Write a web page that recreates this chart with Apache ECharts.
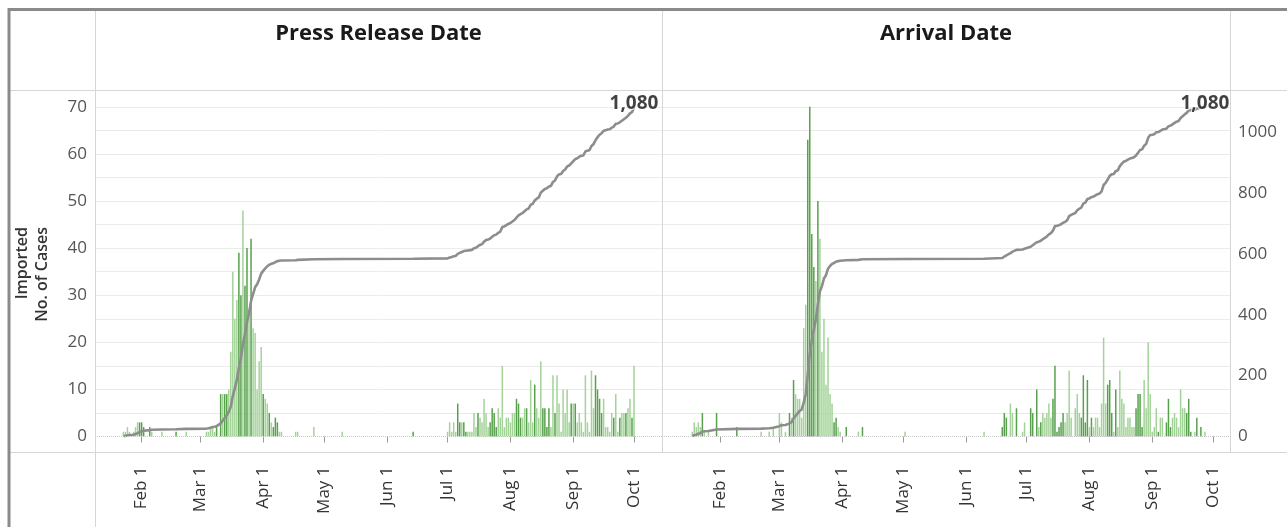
<!DOCTYPE html>
<html><head><meta charset="utf-8">
<script src="https://cdn.jsdelivr.net/npm/echarts@6/dist/echarts.min.js"></script>
<style>html,body{margin:0;padding:0;background:#fff;}#c{width:1287px;height:527px;}</style>
</head><body><div id="c"></div>
<script>
// ---------------- DATA ----------------
const YEAR = 2020;
const MONTH_NAMES = ['Jan','Feb','Mar','Apr','May','Jun','Jul','Aug','Sep','Oct','Nov','Dec'];
const PANEL_TITLES = ['Press Release Date', 'Arrival Date'];
const Y_TITLE = ['Imported', 'No. of Cases'];

// Daily imported cases by press release date (index = day of month - 1)
const PRESS_JAN = [0,0,0,0,0,0,0,0,0,0, 0,0,0,0,0,0,0,0,0,0, 0,0,1,1,2,1,0,1,2,3, 3];
const PRESS_FEB = [3,2,0,0,2,1,0,0,0,0, 1,0,0,0,0,0,0,1,0,0, 0,0,1,0,0,0,0,0,0];
const PRESS_MAR = [0,0,0,1,1,2,2,1,2,0, 9,9,9,9,10,18,35,25,29,39, 30,48,32,40,27,42,23,22,10,16, 19];
const PRESS_APR = [9,8,7,5,3,2,4,3,1,1, 0,0,0,0,0,0,1,1,0,0, 0,0,0,0,0,2,0,0,0,0];
const PRESS_MAY = [0,0,0,0,0,0,0,0,0,1, 0,0,0,0,0,0,0,0,0,0, 0,0,0,0,0,0,0,0,0,0, 0];
const PRESS_JUN = [0,0,0,0,0,0,0,0,0,0, 0,0,0,1,0,0,0,0,0,0, 0,0,0,0,0,0,0,0,0,0];
const PRESS_JUL = [1,3,1,3,1,7,3,3,3,1, 1,1,1,5,2,5,4,3,8,5, 2,3,6,5,2,6,4,15,2,4, 4];
const PRESS_AUG = [3,5,5,8,7,4,4,6,6,3, 12,3,11,6,4,16,6,6,2,6, 2,13,5,13,7,1,10,5,10,3, 7];
const PRESS_SEP = [7,7,3,5,3,1,13,3,1,14, 6,13,10,8,5,8,2,2,1,5, 4,9,1,4,5,5,5,6,8,4];
const PRESS_OCT = [15];
// days drawn in the darker green shade (MM-DD)
const PRESS_DARK = ['01-31','02-01','02-02','02-05','02-18','03-09','03-11','03-13','03-14','03-20','03-21',
  '03-23','03-24','03-26','04-01','04-04','04-06','04-07','04-08','06-14','07-06','07-07','07-09','07-10',
  '07-16','07-22','07-23','07-24','07-25','08-04','08-05','08-06','08-09','08-13','08-17','08-18','08-19',
  '08-20','08-23','08-31','09-02','09-12','09-13','09-14','09-15','09-21','09-24','09-27','09-30'];

// Daily imported cases by arrival date
const ARR_JAN = [0,0,0,0,0,0,0,0,0,0, 0,0,0,0,0,0,0,1,3,2, 3,2,5,1,0,1,0,0,0,5, 0];
const ARR_FEB = [0,0,0,0,0,0,0,0,2,0, 0,0,0,0,0,0,0,0,0,0, 1,0,0,0,1,0,2,0,0];
const ARR_MAR = [5,3,0,1,0,5,4,12,9,8, 8,4,23,28,63,70,43,36,33,50, 42,18,25,11,21,9,7,3,4,2, 1];
const ARR_APR = [0,0,2,0,0,0,0,0,1,0, 2,0,0,0,0,0,0,0,0,0, 0,0,0,0,0,0,0,0,0,0];
const ARR_MAY = [0,1,0,0,0,0,0,0,0,0, 0,0,0,0,0,0,0,0,0,0, 0,0,0,0,0,0,0,0,0,0, 0];
const ARR_JUN = [0,0,0,0,0,0,0,0,0,1, 0,0,0,0,0,0,0,0,2,5, 4,0,7,5,0,6,0,0,1,3];
const ARR_JUL = [0,0,6,5,0,10,2,3,5,4, 5,7,4,8,15,1,2,3,5,3, 5,14,4,0,6,9,5,4,13,3, 12];
const ARR_AUG = [2,4,2,4,4,2,7,21,7,11, 12,5,1,10,2,14,8,7,2,4, 4,2,2,6,9,9,2,12,6,20, 9];
const ARR_SEP = [1,2,6,1,4,4,0,3,8,2, 4,5,4,2,10,6,6,5,8,1, 0,1,4,0,2,0,1,0,0,0];
const ARR_OCT = [];
const ARR_DARK = ['01-23','01-30','02-09','03-06','03-08','03-15','03-16','03-17','03-18','03-20','03-28',
  '03-29','04-03','04-11','06-19','06-20','06-21','06-26','07-03','07-04','07-06','07-08','07-14','07-15',
  '07-16','07-17','07-18','07-19','07-28','07-29','07-30','07-31','08-02','08-10','08-11','08-12','08-14',
  '08-24','08-25','08-26','08-27','09-04','09-08','09-09','09-10','09-18','09-19','09-20','09-23','09-25'];

// axis ticks
const Y_LEFT_TICKS = [0,10,20,30,40,50,60,70];
const Y_RIGHT_TICKS = [0,200,400,600,800,1000];

// ---------------- CHART ----------------
const DAY = 864e5;
const FEB1 = Date.UTC(YEAR, 1, 1);
const X_RANGE = [[FEB1 - 22.64 * DAY, FEB1 + 256.44 * DAY], [FEB1 - 28.55 * DAY, FEB1 + 251.0 * DAY]];
const Y_LEFT_MAX = 73.57, Y_RIGHT_MAX = 1138;
const DARK = '#57a14c', LIGHT = '#a3d398';
const FONT = 'Open Sans';

const pad = n => String(n).padStart(2, '0');
function buildPanel(months, dark) {
  const bars = [], line = [];
  let cum = 0;
  months.forEach((arr, m) => arr.forEach((v, i) => {
    if (!v) return;
    const t = Date.UTC(YEAR, m, i + 1);
    const key = pad(m + 1) + '-' + pad(i + 1);
    bars.push({ value: [t, v], itemStyle: { color: dark.includes(key) ? DARK : LIGHT } });
    cum += v;
    line.push([t, cum]);
  }));
  return { bars, line };
}
const panels = [
  buildPanel([PRESS_JAN, PRESS_FEB, PRESS_MAR, PRESS_APR, PRESS_MAY, PRESS_JUN, PRESS_JUL, PRESS_AUG, PRESS_SEP, PRESS_OCT], PRESS_DARK),
  buildPanel([ARR_JAN, ARR_FEB, ARR_MAR, ARR_APR, ARR_MAY, ARR_JUN, ARR_JUL, ARR_AUG, ARR_SEP, ARR_OCT], ARR_DARK)
];

const GRID_TOP = 90, GRID_H = 346.5;
const grids = [
  { left: 95, top: GRID_TOP, width: 567, height: GRID_H },
  { left: 662, top: GRID_TOP, width: 568, height: GRID_H }
];
const nSplit = Math.ceil(Y_LEFT_MAX / 5) + 1;
const splitColors = Array.from({ length: nSplit }, (_, i) => i === 0 ? 'rgba(0,0,0,0)' : '#ebebeb');

const xAxes = grids.map((g, i) => ({
  type: 'time', gridIndex: i, min: X_RANGE[i][0], max: X_RANGE[i][1], offset: 16,
  splitNumber: 9, minInterval: 28 * DAY, maxInterval: 31 * DAY,
  axisLine: { show: false },
  axisTick: { show: true, length: 6, lineStyle: { color: '#9a9a9a' } },
  splitLine: { show: false },
  axisLabel: {
    rotate: 90, margin: 14, fontSize: 17, color: '#333', fontFamily: FONT,
    showMinLabel: false, showMaxLabel: false, hideOverlap: false,
    formatter: v => { const d = new Date(v); return MONTH_NAMES[d.getUTCMonth()] + ' ' + d.getUTCDate(); }
  }
}));

const yAxes = [];
grids.forEach((g, i) => {
  yAxes.push({
    type: 'value', gridIndex: i, position: 'left', min: 0, max: Y_LEFT_MAX, interval: 5,
    axisLine: { show: false }, axisTick: { show: false },
    axisLabel: {
      show: i === 0, margin: 8, fontSize: 17, color: '#555', fontFamily: FONT,
      formatter: v => Y_LEFT_TICKS.includes(v) ? String(v) : ''
    },
    splitLine: { show: true, lineStyle: { color: splitColors, width: 1 } }
  });
  yAxes.push({
    type: 'value', gridIndex: i, position: 'right', min: 0, max: Y_RIGHT_MAX, interval: 200,
    axisLine: { show: false }, axisTick: { show: false }, splitLine: { show: false },
    axisLabel: {
      show: i === 1, margin: 8, fontSize: 17, color: '#555', fontFamily: FONT,
      formatter: v => Y_RIGHT_TICKS.includes(v) ? String(v) : ''
    }
  });
});

const series = [];
panels.forEach((p, i) => {
  series.push({
    type: 'bar', xAxisIndex: i, yAxisIndex: 2 * i, data: p.bars, barWidth: 1.5, silent: true,
    markLine: {
      silent: true, symbol: ['none', 'none'], label: { show: false },
      lineStyle: { type: 'dotted', color: '#c8c8c8', width: 1 }, data: [{ yAxis: 0 }]
    }
  });
  series.push({
    type: 'line', xAxisIndex: i, yAxisIndex: 2 * i + 1, data: p.line, showSymbol: false, silent: true,
    lineStyle: { color: '#8d8d8d', width: 2.6 }, z: 3
  });
  const last = p.line[p.line.length - 1];
  series.push({
    type: 'scatter', xAxisIndex: i, yAxisIndex: 2 * i + 1, data: [last], symbolSize: 0, silent: true, z: 5,
    label: {
      show: true, position: 'inside', offset: [0, -4],
      formatter: d => d.value[1].toLocaleString('en-US'),
      fontSize: 19, fontWeight: 'bold', color: '#111', fontFamily: FONT,
      textBorderColor: '#fff', textBorderWidth: 2
    }
  });
});

const LIGHT_LINE = '#d6d6d6', FRAME = '#8a8a8a';
const line = (x1, y1, x2, y2, stroke, w) => ({ type: 'line', silent: true, z: 100,
  shape: { x1, y1, x2, y2 }, style: { stroke, lineWidth: w } });
const graphic = [
  line(95.5, 10, 95.5, 527, LIGHT_LINE, 1),
  line(662.5, 10, 662.5, 452, LIGHT_LINE, 1),
  line(1230.5, 10, 1230.5, 452, LIGHT_LINE, 1),
  line(9, 90.5, 1287, 90.5, LIGHT_LINE, 1),
  line(9, 452.5, 1287, 452.5, LIGHT_LINE, 1),
  line(9, 9.5, 1287, 9.5, FRAME, 3),
  line(9, 8, 9, 527, FRAME, 3),
  { type: 'text', x: 378.5, y: 34, silent: true, style: { text: PANEL_TITLES[0], align: 'center', verticalAlign: 'middle',
    font: 'bold 22px "' + FONT + '"', fill: '#1a1a1a' } },
  { type: 'text', x: 946, y: 34, silent: true, style: { text: PANEL_TITLES[1], align: 'center', verticalAlign: 'middle',
    font: 'bold 22px "' + FONT + '"', fill: '#1a1a1a' } },
  { type: 'text', x: 32, y: 227, rotation: Math.PI / 2, silent: true, style: { text: Y_TITLE.join('\n'), align: 'right',
    verticalAlign: 'middle', font: '600 16px "' + FONT + '"', fill: '#333', lineHeight: 20 } }
];

const chart = echarts.init(document.getElementById('c'), null, { renderer: 'canvas' });
chart.setOption({
  useUTC: true, animation: false, backgroundColor: '#fff',
  grid: grids, xAxis: xAxes, yAxis: yAxes, series, graphic
});
</script></body></html>
